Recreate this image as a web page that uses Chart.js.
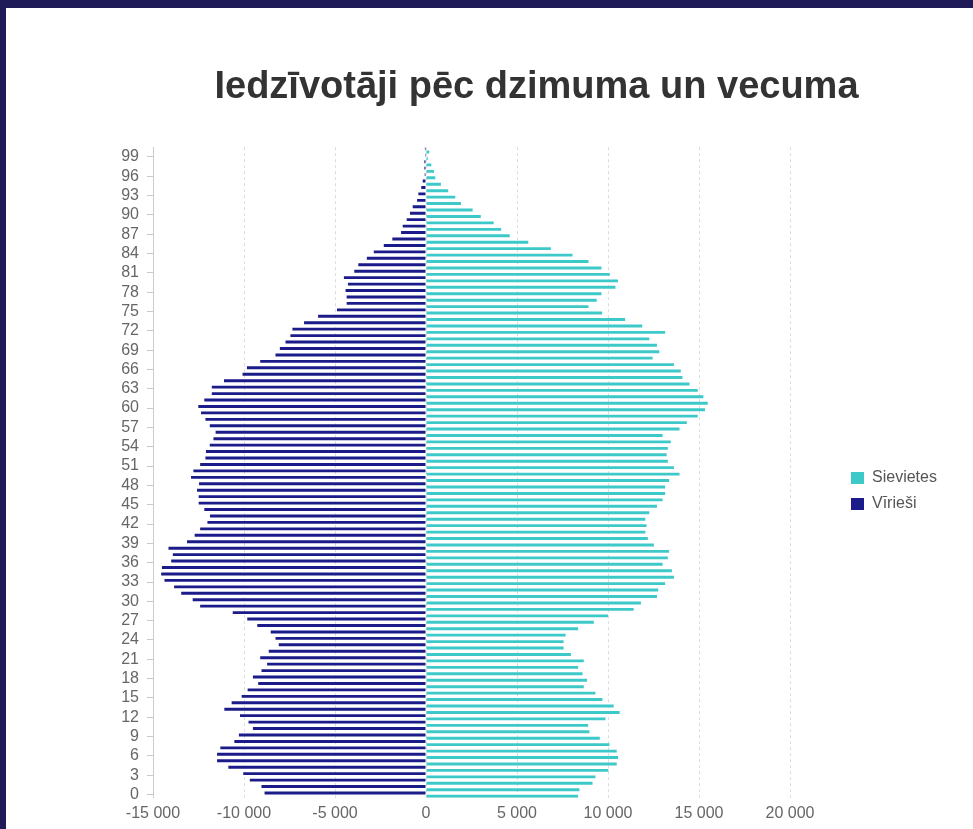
<!DOCTYPE html>
<html lang="lv">
<head>
<meta charset="utf-8">
<title>Iedzīvotāji pēc dzimuma un vecuma</title>
<script src="https://cdn.jsdelivr.net/npm/chart.js@4.4.1/dist/chart.umd.min.js"></script>
<style>
  html, body { margin: 0; padding: 0; width: 973px; height: 829px; overflow: hidden; background: #1f1b58; }
  #sheet { position: absolute; left: 6px; top: 8px; right: 0; bottom: 0; background: #ffffff; }
  #chart { position: absolute; left: 100px; top: 0; }
</style>
</head>
<body>
<div id="sheet"></div>
<canvas id="chart" width="873" height="829"></canvas>
<script>
// ---- DATA ----
const titleText = 'Iedzīvotāji pēc dzimuma un vecuma';
const seriesNames = ['Vīrieši', 'Sievietes'];

const ages = ['0','1','2','3','4','5','6','7','8','9',
  '10','11','12','13','14','15','16','17','18','19',
  '20','21','22','23','24','25','26','27','28','29',
  '30','31','32','33','34','35','36','37','38','39',
  '40','41','42','43','44','45','46','47','48','49',
  '50','51','52','53','54','55','56','57','58','59',
  '60','61','62','63','64','65','66','67','68','69',
  '70','71','72','73','74','75','76','77','78','79',
  '80','81','82','83','84','85','86','87','88','89',
  '90','91','92','93','94','95','96','97','98','99','100'];

const shownAgeTicks = ['0','3','6','9','12','15','18','21','24','27','30','33','36','39','42','45','48',
  '51','54','57','60','63','66','69','72','75','78','81','84','87','90','93','96','99'];

// men, counts (plotted to the left)
const maleCounts = [
  8870, 9040, 9680, 10040, 10860, 11480, 11480, 11300, 10530, 10280,
  9510, 9750, 10220, 11080, 10680, 10130, 9800, 9220, 9510, 9040,
  8730, 9110, 8640, 8090, 8270, 8530, 9270, 9820, 10620, 12410,
  12820, 13450, 13840, 14370, 14550, 14510, 14000, 13910, 14150, 13130,
  12710, 12410, 12010, 11870, 12180, 12490, 12490, 12580, 12470, 12910,
  12780, 12410, 12120, 12090, 11880, 11680, 11560, 11880, 12120, 12360,
  12510, 12180, 11770, 11770, 11100, 10080, 9840, 9110, 8270, 8030,
  7720, 7450, 7340, 6700, 5930, 4890, 4360, 4360, 4420, 4290,
  4510, 3940, 3720, 3250, 2870, 2320, 1850, 1370, 1280, 1060,
  880, 730, 490, 420, 260, 180, 70, 90, 90, 50, 60
];

// women, counts (plotted to the right)
const femaleCounts = [
  8360, 8430, 9150, 9310, 10020, 10480, 10550, 10480, 10080, 9550,
  8980, 8910, 9860, 10640, 10310, 9690, 9310, 8670, 8850, 8600,
  8360, 8670, 7960, 7560, 7560, 7670, 8360, 9220, 10000, 11410,
  11810, 12690, 12760, 13140, 13620, 13510, 13000, 13290, 13360, 12520,
  12190, 12050, 12120, 12050, 12270, 12690, 13000, 13140, 13140, 13360,
  13930, 13620, 13290, 13220, 13290, 13450, 13000, 13930, 14330, 14930,
  15330, 15480, 15240, 14930, 14480, 14090, 14000, 13620, 12450, 12820,
  12690, 12270, 13140, 11880, 10940, 9680, 8930, 9380, 9640, 10410,
  10550, 10100, 9640, 8930, 8050, 6860, 5620, 4600, 4130, 3720,
  3010, 2560, 1920, 1610, 1220, 820, 510, 440, 290, 90, 180
];

const xTicksMin = -15000;
const xTicksMax = 20000;
const xTickStep = 5000;

// ---- CHART ----
const FONT = "'Liberation Sans', Arial, Helvetica, sans-serif";
const fmt = v => String(v).replace(/\B(?=(\d{3})+(?!\d))/g, ' ');

const boxPlacer = {
  id: 'boxPlacer',
  afterLayout(chart) {
    const lg = chart.legend;
    if (lg) {
      const w = lg.width, h = lg.height;
      lg.left = 741; lg.right = 741 + w;
      lg.top = 460; lg.bottom = 460 + h;
    }
    const tb = chart.titleBlock;
    if (tb) {
      tb.left = 0; tb.right = chart.width; tb.width = chart.width;
    }
  }
};

new Chart(document.getElementById('chart'), {
  type: 'bar',
  data: {
    labels: ages,
    datasets: [
      {
        label: seriesNames[0],
        data: maleCounts.map(v => -v),
        backgroundColor: '#1b1b8a',
        borderWidth: 0
      },
      {
        label: seriesNames[1],
        data: femaleCounts,
        backgroundColor: '#3ec9c9',
        borderWidth: 0
      }
    ]
  },
  options: {
    indexAxis: 'y',
    responsive: false,
    animation: false,
    devicePixelRatio: 1,
    categoryPercentage: 1.0,
    barPercentage: 0.9,
    layout: { padding: { left: 0, right: 183, top: 0, bottom: 0 } },
    scales: {
      x: {
        type: 'linear',
        min: xTicksMin,
        max: xTicksMax,
        ticks: {
          stepSize: xTickStep,
          color: '#666',
          font: { family: FONT, size: 16 },
          padding: 6,
          callback: v => fmt(v)
        },
        grid: { color: '#dcdcdc', drawTicks: false, lineWidth: 1 },
        border: { display: false, dash: [3, 3] }
      },
      y: {
        type: 'category',
        reverse: true,
        offset: true,
        afterFit: s => { s.width = 53; },
        ticks: {
          autoSkip: false,
          color: '#666',
          font: { family: FONT, size: 16 },
          padding: 8,
          callback: function (value) {
            const lab = this.getLabelForValue(value);
            return shownAgeTicks.includes(lab) ? lab : '';
          }
        },
        grid: {
          offset: false,
          drawOnChartArea: false,
          drawTicks: true,
          tickLength: 6,
          color: ctx => (ctx.tick && shownAgeTicks.includes(ages[ctx.tick.value]) ? '#c8c8c8' : 'rgba(0,0,0,0)')
        },
        border: { display: true, color: '#cccccc', width: 1 }
      }
    },
    plugins: {
      title: {
        display: true,
        text: titleText,
        color: '#333333',
        font: { family: FONT, size: 38, weight: 'bold' },
        padding: { top: 64.5, bottom: 37.1 }
      },
      legend: {
        display: true,
        position: 'chartArea',
        align: 'start',
        reverse: true,
        labels: {
          boxWidth: 13,
          boxHeight: 12,
          padding: 10,
          color: '#555555',
          font: { family: FONT, size: 16 }
        }
      },
      tooltip: { enabled: false }
    }
  },
  plugins: [boxPlacer]
});
</script>
</body>
</html>
